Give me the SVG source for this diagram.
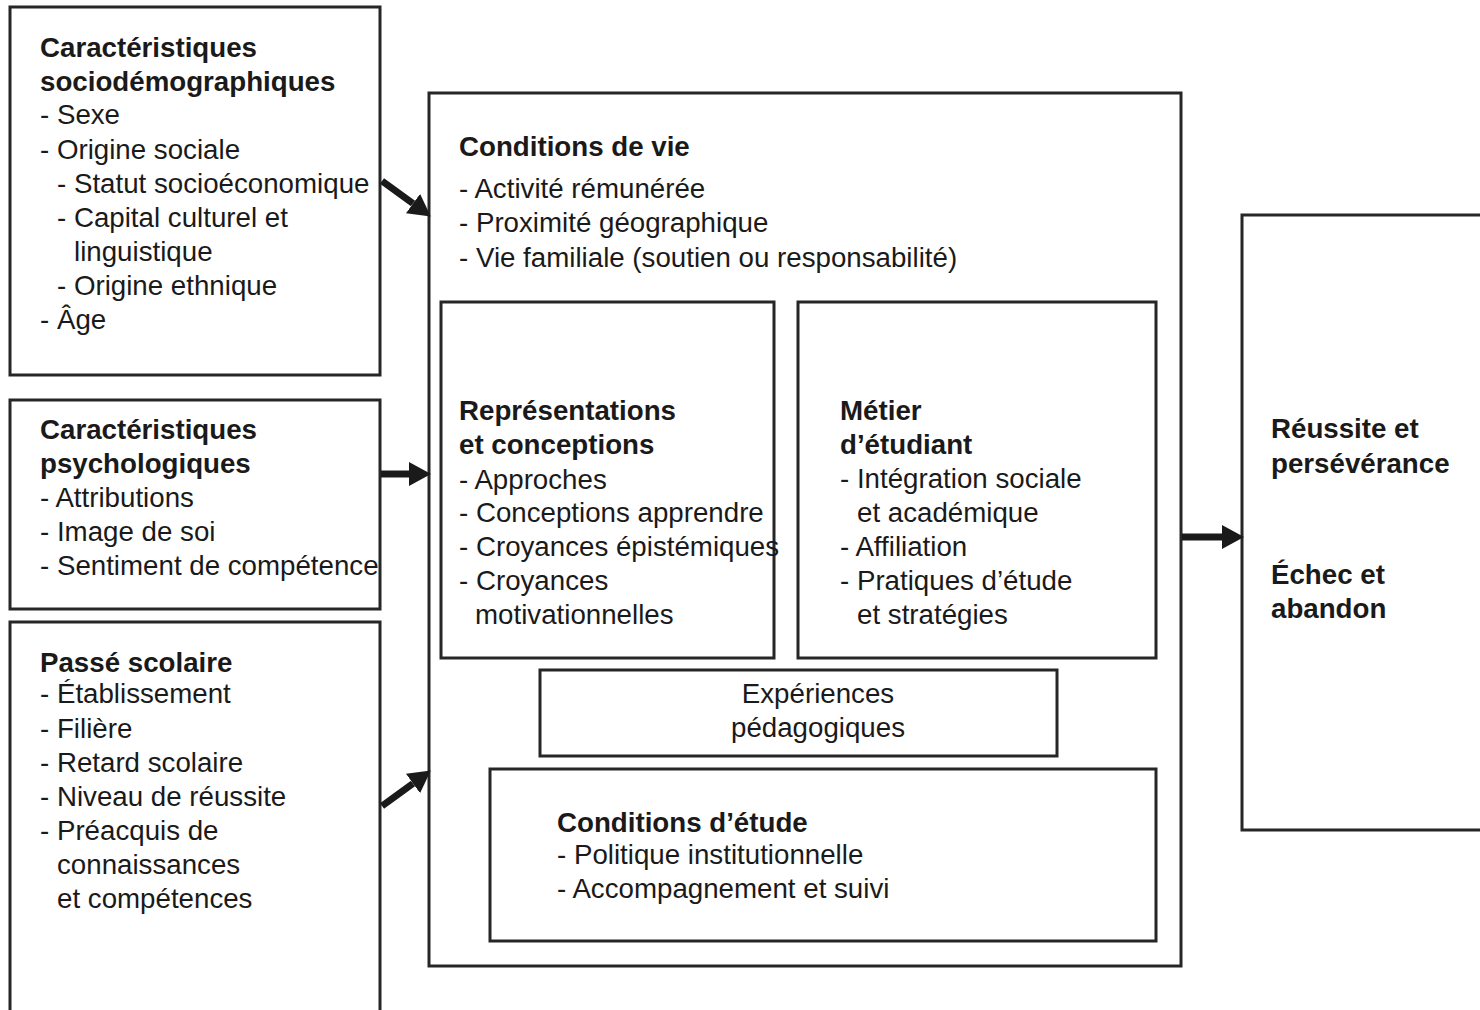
<svg xmlns="http://www.w3.org/2000/svg" width="1480" height="1010" viewBox="0 0 1480 1010">
<defs>
<style>
.box{fill:none;stroke:#262626;stroke-width:3}
text{font-family:"Liberation Sans",Arial,sans-serif;font-size:27.7px;fill:#1a1a1a}
.b{font-weight:bold}
.c{text-anchor:middle}
.arr{stroke:#1a1a1a;stroke-width:7;fill:none}
</style>
<marker id="ah" markerUnits="userSpaceOnUse" markerWidth="22" markerHeight="24" viewBox="0 0 22 24" refX="0" refY="12" orient="auto">
<path d="M0,0 L22,12 L0,24 z" fill="#1a1a1a"/>
</marker>
</defs>
<rect width="1480" height="1010" fill="#fff"/>

<g id="socio">
<rect class="box" x="10" y="7" width="370" height="368"/>
<text class="b" x="40" y="57">Caractéristiques</text>
<text class="b" x="40" y="91">sociodémographiques</text>
<text x="40" y="124">- Sexe</text>
<text x="40" y="159">- Origine sociale</text>
<text x="57" y="193">- Statut socioéconomique</text>
<text x="57" y="227">- Capital culturel et</text>
<text x="74" y="261">linguistique</text>
<text x="57" y="295">- Origine ethnique</text>
<text x="40" y="329">- Âge</text>
</g>

<g id="psycho">
<rect class="box" x="10" y="400" width="370" height="209"/>
<text class="b" x="40" y="439">Caractéristiques</text>
<text class="b" x="40" y="473">psychologiques</text>
<text x="40" y="507">- Attributions</text>
<text x="40" y="541">- Image de soi</text>
<text x="40" y="575">- Sentiment de compétence</text>
</g>

<g id="passe">
<path class="box" d="M10,1012 V622 H380 V1012"/>
<text class="b" x="40" y="672">Passé scolaire</text>
<text x="40" y="703">- Établissement</text>
<text x="40" y="738">- Filière</text>
<text x="40" y="772">- Retard scolaire</text>
<text x="40" y="806">- Niveau de réussite</text>
<text x="40" y="840">- Préacquis de</text>
<text x="57" y="874">connaissances</text>
<text x="57" y="908">et compétences</text>
</g>

<g id="conditions-vie">
<rect class="box" x="429" y="93" width="752" height="873"/>
<text class="b" x="459" y="156">Conditions de vie</text>
<text x="459" y="198">- Activité rémunérée</text>
<text x="459" y="232">- Proximité géographique</text>
<text x="459" y="267">- Vie familiale (soutien ou responsabilité)</text>
</g>

<g id="representations">
<rect class="box" x="441" y="302" width="333" height="356"/>
<text class="b" x="459" y="420">Représentations</text>
<text class="b" x="459" y="454">et conceptions</text>
<text x="459" y="489">- Approches</text>
<text x="459" y="522">- Conceptions apprendre</text>
<text x="459" y="556">- Croyances épistémiques</text>
<text x="459" y="590">- Croyances</text>
<text x="475" y="624">motivationnelles</text>
</g>

<g id="metier">
<rect class="box" x="798" y="302" width="358" height="356"/>
<text class="b" x="840" y="420">Métier</text>
<text class="b" x="840" y="454">d’étudiant</text>
<text x="840" y="488">- Intégration sociale</text>
<text x="857" y="522">et académique</text>
<text x="840" y="556">- Affiliation</text>
<text x="840" y="590">- Pratiques d’étude</text>
<text x="857" y="624">et stratégies</text>
</g>

<g id="experiences">
<rect class="box" x="540" y="670" width="517" height="86"/>
<text class="c" x="818" y="703">Expériences</text>
<text class="c" x="818" y="737">pédagogiques</text>
</g>

<g id="conditions-etude">
<rect class="box" x="490" y="769" width="666" height="172"/>
<text class="b" x="557" y="832">Conditions d’étude</text>
<text x="557" y="864">- Politique institutionnelle</text>
<text x="557" y="898">- Accompagnement et suivi</text>
</g>

<g id="resultat">
<path class="box" d="M1482,215 H1242 V830 H1482"/>
<text class="b" x="1271" y="438">Réussite et</text>
<text class="b" x="1271" y="473">persévérance</text>
<text class="b" x="1271" y="584">Échec et</text>
<text class="b" x="1271" y="618">abandon</text>
</g>

<g id="connectors">
<line class="arr" x1="382" y1="181" x2="413" y2="203.5" marker-end="url(#ah)"/>
<line class="arr" x1="381" y1="474" x2="409" y2="474" marker-end="url(#ah)"/>
<line class="arr" x1="382" y1="806" x2="413" y2="783.5" marker-end="url(#ah)"/>
<line class="arr" x1="1182" y1="537" x2="1222" y2="537" marker-end="url(#ah)"/>
</g>
</svg>
